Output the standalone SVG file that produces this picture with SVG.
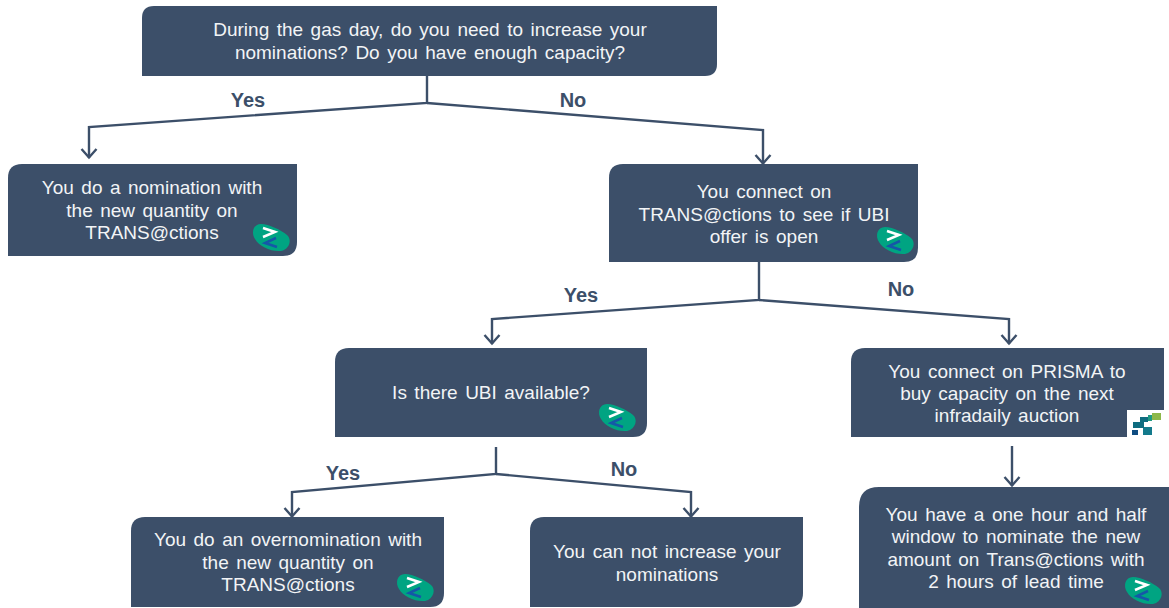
<svg xmlns="http://www.w3.org/2000/svg" width="1169" height="608" viewBox="0 0 1169 608">
<style>
.box{fill:#3c4f69}
.t{font-family:"Liberation Sans",Arial,sans-serif;font-size:19px;fill:#f2f4f6;text-anchor:middle;word-spacing:2.2px}
.l{font-family:"Liberation Sans",Arial,sans-serif;font-size:20px;font-weight:bold;fill:#3c4f69;text-anchor:middle}
.c{fill:none;stroke:#3c4f69;stroke-width:2.4}
</style>
<defs>
<marker id="arrow" markerUnits="userSpaceOnUse" markerWidth="20" markerHeight="20" viewBox="0 0 20 20" refX="15" refY="10" orient="auto">
<path d="M6 2.500L14.500 10L6 17.500" fill="none" stroke="#3c4f69" stroke-width="2.400"/>
</marker>
<g id="logo">
<path d="M-10 -13C-2 -13 10 -7 16 -2C21 2 19 12 10 14C0 15 -12 9 -16 2C-20 -4 -18 -13 -10 -13Z" fill="#00a482"/>
<path d="M-8 -9L4 -5L-8 0" fill="none" stroke="#fff" stroke-width="2.500"/>
<path d="M5 1L-6 6L6 10" fill="none" stroke="#1557a8" stroke-width="2.500"/>
</g>
<g id="prisma">
<rect x="0" y="0" width="37" height="27" fill="#fff"/>
<rect x="5" y="20" width="6" height="5" fill="#0f4c81"/>
<rect x="16" y="17" width="9" height="8" fill="#137a8c"/>
<path d="M6 12H13V7H21V12H17V18H6Z" fill="#0f6d80"/>
<rect x="21" y="5" width="4" height="6" fill="#1f9a82"/>
<rect x="25" y="3" width="9" height="7" fill="#8db84a"/>
</g>
</defs>
<g id="connectors">
<path class="c" d="M427 76V103L89 127V158" marker-end="url(#arrow)"/>
<path class="c" d="M427 103L763 130V164" marker-end="url(#arrow)"/>
<path class="c" d="M759 262V300L492 319V344" marker-end="url(#arrow)"/>
<path class="c" d="M759 300L1009 319V344" marker-end="url(#arrow)"/>
<path class="c" d="M496 447V474L292 492V517" marker-end="url(#arrow)"/>
<path class="c" d="M496 474L691 492V517" marker-end="url(#arrow)"/>
<path class="c" d="M1012 446V486" marker-end="url(#arrow)"/>
</g>
<g id="labels">
<text class="l" x="248" y="107">Yes</text>
<text class="l" x="573" y="107">No</text>
<text class="l" x="581" y="302">Yes</text>
<text class="l" x="901" y="296">No</text>
<text class="l" x="343" y="480">Yes</text>
<text class="l" x="624" y="476">No</text>
</g>
<g id="n1">
<path class="box" d="M154 6H717V64Q717 76 705 76H142V18Q142 6 154 6Z"/>
<text class="t" x="430" y="36">During the gas day, do you need to increase your</text>
<text class="t" x="430" y="59">nominations? Do you have enough capacity?</text>
</g>
<g id="n2">
<path class="box" d="M22 164H297V242Q297 256 283 256H8V178Q8 164 22 164Z"/>
<text class="t" x="152" y="194">You do a nomination with</text>
<text class="t" x="152" y="217">the new quantity on</text>
<text class="t" x="152" y="239">TRANS@ctions</text>
<use href="#logo" x="271" y="237"/>
</g>
<g id="n3">
<path class="box" d="M623 164H918V248Q918 262 904 262H609V178Q609 164 623 164Z"/>
<text class="t" x="764" y="198">You connect on</text>
<text class="t" x="764" y="221">TRANS@ctions to see if UBI</text>
<text class="t" x="764" y="243">offer is open</text>
<use href="#logo" x="895" y="240"/>
</g>
<g id="n4">
<path class="box" d="M349 348H647V423Q647 437 633 437H335V362Q335 348 349 348Z"/>
<text class="t" x="491" y="399">Is there UBI available?</text>
<use href="#logo" x="617" y="417"/>
</g>
<g id="n5">
<path class="box" d="M865 348H1164V437H851V362Q851 348 865 348Z"/>
<text class="t" x="1007" y="378">You connect on PRISMA to</text>
<text class="t" x="1007" y="400">buy capacity on the next</text>
<text class="t" x="1007" y="422">infradaily auction</text>
<use href="#prisma" x="1127" y="410"/>
</g>
<g id="n6">
<path class="box" d="M145 517H444V593Q444 607 430 607H131V531Q131 517 145 517Z"/>
<text class="t" x="288" y="546">You do an overnomination with</text>
<text class="t" x="288" y="569">the new quantity on</text>
<text class="t" x="288" y="591">TRANS@ctions</text>
<use href="#logo" x="415" y="587"/>
</g>
<g id="n7">
<path class="box" d="M544 517H803V593Q803 607 789 607H530V531Q530 517 544 517Z"/>
<text class="t" x="667" y="558">You can not increase your</text>
<text class="t" x="667" y="581">nominations</text>
</g>
<g id="n8">
<path class="box" d="M879 487H1169V608H859V507Q859 487 879 487Z"/>
<text class="t" x="1016" y="521">You have a one hour and half</text>
<text class="t" x="1016" y="543">window to nominate the new</text>
<text class="t" x="1016" y="566">amount on Trans@ctions with</text>
<text class="t" x="1016" y="588">2 hours of lead time</text>
<use href="#logo" x="1143" y="590"/>
</g>
</svg>
